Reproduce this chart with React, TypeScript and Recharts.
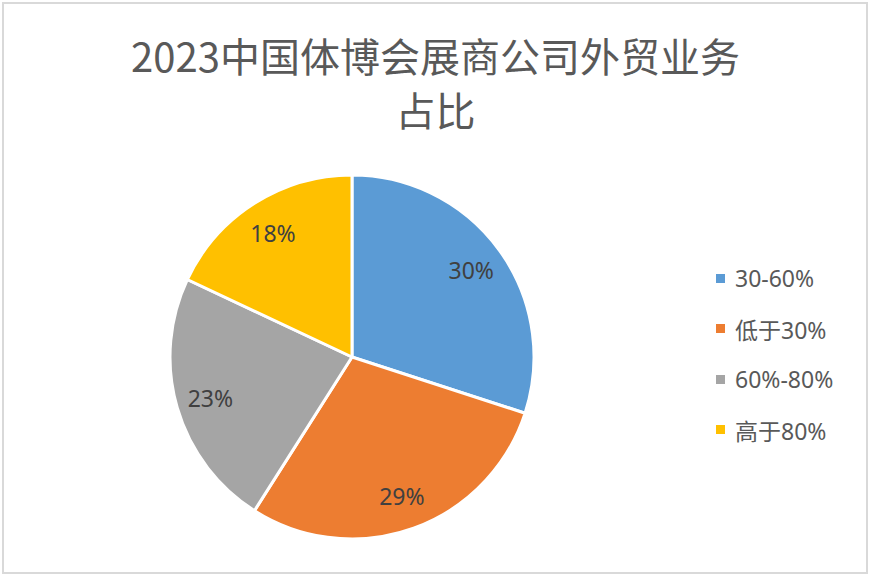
import React from 'react';
import { PieChart, Pie, Cell, Legend } from 'recharts';

const categories = ['30-60%', '低于30%', '60%-80%', '高于80%'];
const shares = [30, 29, 23, 18];
const colors = ['#5B9BD5', '#ED7D31', '#A5A5A5', '#FFC000'];
const titleLines = ['2023中国体博会展商公司外贸业务', '占比'];

const data = categories.map((name, i) => ({ name, value: shares[i] }));

const RADIAN = Math.PI / 180;

const renderLabel = ({ cx, cy, midAngle, outerRadius, value }: any) => {
    const r = outerRadius * 0.81;
    const x = cx + r * Math.cos(-midAngle * RADIAN);
    const y = cy + r * Math.sin(-midAngle * RADIAN);
    return (
        <text
            x={x}
            y={y}
            fill="#404040"
            fontSize={23}
            fontFamily='"Noto Sans", sans-serif'
            textAnchor="middle"
            dominantBaseline="central"
        >
            {value}%
        </text>
    );
};

const LegendContent = () => (
    <div style={{ fontFamily: '"Noto Sans", "Noto Sans CJK SC", sans-serif' }}>
        {categories.map((c, i) => (
            <div
                key={c}
                style={{ display: 'flex', alignItems: 'center', height: 50.5, color: '#595959', fontSize: 23 }}
            >
                <span
                    style={{ width: 9, height: 9, background: colors[i], display: 'inline-block', marginRight: 10 }}
                />
                <span>{c}</span>
            </div>
        ))}
    </div>
);

export default function App() {
    return (
        <div
            style={{
                position: 'fixed',
                left: 0,
                top: 0,
                width: 871,
                height: 577,
                background: '#fff',
                margin: 0,
            }}
        >
            <div
                style={{
                    position: 'absolute',
                    left: 2,
                    top: 2,
                    width: 862,
                    height: 568,
                    border: '2px solid #D9D9D9',
                }}
            />
            {titleLines.map((t, i) => (
                <div
                    key={t}
                    style={{
                        position: 'absolute',
                        left: 0,
                        top: 35 + i * 54,
                        width: 871,
                        textAlign: 'center',
                        fontFamily: '"Noto Sans CJK SC", sans-serif',
                        fontSize: 40,
                        lineHeight: '40px',
                        color: '#595959',
                    }}
                >
                    {t}
                </div>
            ))}
            <div style={{ position: 'absolute', left: 0, top: 0 }}>
                <PieChart width={871} height={577} margin={{ top: 0, right: 0, bottom: 0, left: 0 }}>
                    <Pie
                        data={data}
                        dataKey="value"
                        nameKey="name"
                        cx={352}
                        cy={357}
                        outerRadius={182}
                        startAngle={90}
                        endAngle={-270}
                        stroke="#fff"
                        strokeWidth={3}
                        label={renderLabel}
                        labelLine={false}
                        isAnimationActive={false}
                    >
                        {data.map((d, i) => (
                            <Cell key={d.name} fill={colors[i]} />
                        ))}
                    </Pie>
                    <Legend
                        layout="vertical"
                        verticalAlign="top"
                        align="right"
                        content={<LegendContent />}
                        wrapperStyle={{ left: 716, top: 253, width: 150 }}
                    />
                </PieChart>
            </div>
        </div>
    );
}
